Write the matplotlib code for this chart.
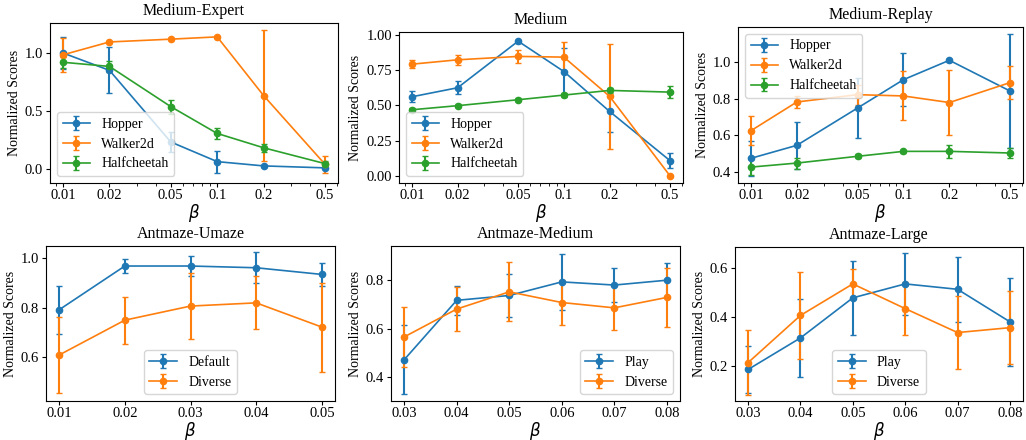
import numpy as np
import matplotlib
matplotlib.use("Agg")
import matplotlib.pyplot as plt

plt.rcParams.update({
    "font.family": "Liberation Serif",
    "mathtext.fontset": "dejavusans",
    "font.size": 10,
    "xtick.labelsize": 10.5,
    "ytick.labelsize": 10.5,
    "xtick.major.size": 3,
    "ytick.major.size": 3,
    "xtick.minor.size": 1.8,
    "xtick.major.pad": 1.5,
    "ytick.major.pad": 2,
})

# beta sweeps
beta_mujoco = [0.01, 0.02, 0.05, 0.1, 0.2, 0.5]
beta_mujoco_labels = ["0.01", "0.02", "0.05", "0.1", "0.2", "0.5"]
beta_umaze = [0.01, 0.02, 0.03, 0.04, 0.05]
beta_antmaze = [0.03, 0.04, 0.05, 0.06, 0.07, 0.08]

# Medium-Expert
me_hopper = [1.00, 0.85, 0.23, 0.06, 0.023, 0.006]
me_hopper_err = [0.14, 0.20, 0.09, 0.095, 0.01, 0.01]
me_walker = [0.985, 1.096, 1.12, 1.14, 0.632, 0.038]
me_walker_err = [0.145, 0.01, 0.01, 0.01, 0.565, 0.075]
me_cheetah = [0.92, 0.884, 0.536, 0.304, 0.18, 0.043]
me_cheetah_err = [0.05, 0.05, 0.06, 0.045, 0.035, 0.02]

# Medium
m_hopper = [0.561, 0.625, 0.955, 0.74, 0.457, 0.108]
m_hopper_err = [0.04, 0.045, 0.01, 0.165, 0.145, 0.055]
m_walker = [0.792, 0.823, 0.847, 0.842, 0.564, 0.0]
m_walker_err = [0.03, 0.035, 0.045, 0.105, 0.37, 0.005]
m_cheetah = [0.469, 0.498, 0.54, 0.573, 0.606, 0.594]
m_cheetah_err = [0.01, 0.01, 0.01, 0.015, 0.015, 0.04]

# Medium-Replay
mr_hopper = [0.475, 0.546, 0.75, 0.905, 1.011, 0.843]
mr_hopper_err = [0.095, 0.128, 0.166, 0.146, 0.008, 0.31]
mr_walker = [0.626, 0.783, 0.823, 0.816, 0.78, 0.889]
mr_walker_err = [0.08, 0.035, 0.055, 0.134, 0.18, 0.09]
mr_cheetah = [0.427, 0.449, 0.486, 0.513, 0.513, 0.504]
mr_cheetah_err = [0.045, 0.03, 0.01, 0.01, 0.035, 0.03]

# Antmaze-Umaze
um_default = [0.792, 0.969, 0.969, 0.962, 0.935]
um_default_err = [0.097, 0.028, 0.04, 0.063, 0.047]
um_diverse = [0.609, 0.75, 0.807, 0.82, 0.722]
um_diverse_err = [0.155, 0.095, 0.135, 0.107, 0.18]

# Antmaze-Medium
amd_play = [0.472, 0.717, 0.737, 0.793, 0.78, 0.80]
amd_play_err = [0.143, 0.06, 0.087, 0.115, 0.071, 0.072]
amd_diverse = [0.566, 0.681, 0.752, 0.708, 0.686, 0.729]
amd_diverse_err = [0.123, 0.09, 0.122, 0.092, 0.09, 0.122]

# Antmaze-Large
al_play = [0.185, 0.314, 0.478, 0.535, 0.513, 0.38]
al_play_err = [0.095, 0.16, 0.152, 0.127, 0.132, 0.18]
al_diverse = [0.213, 0.406, 0.535, 0.434, 0.336, 0.356]
al_diverse_err = [0.132, 0.177, 0.063, 0.109, 0.151, 0.15]

W, H = 1026, 440
fig = plt.figure(figsize=(W / 100, H / 100), dpi=100)


def make_axes(left, top, width, height):
    return fig.add_axes([left / W, 1 - (top + height) / H, width / W, height / H])


def draw(ax, x, series, title, ylim, legend_loc, log=False):
    for label, y, err in series:
        ax.errorbar(x, y, yerr=err, marker="o", markersize=4.5, capsize=2,
                    elinewidth=1.5, linewidth=1.2, label=label)
    ax.set_title(title, fontsize=11.5)
    ax.set_ylabel("Normalized Scores", fontsize=10, labelpad=3)
    ax.set_xlabel(r"$\beta$", fontsize=12, labelpad=-0.5)
    ax.set_ylim(*ylim)
    if log:
        ax.set_xscale("log")
        ax.set_xticks(x)
        ax.set_xticklabels(beta_mujoco_labels)
    else:
        ax.set_xticks(x)
        ax.set_xticklabels([f"{v:.2f}" for v in x])
    ax.legend(loc=legend_loc, fontsize=10)


ax = make_axes(50, 23, 288, 160)
draw(ax, beta_mujoco, [("Hopper", me_hopper, me_hopper_err),
                       ("Walker2d", me_walker, me_walker_err),
                       ("Halfcheetah", me_cheetah, me_cheetah_err)],
     "Medium-Expert", (-0.125, 1.26), "lower left", log=True)
ax.set_yticks([0.0, 0.5, 1.0])

ax = make_axes(399, 32, 284, 151)
draw(ax, beta_mujoco, [("Hopper", m_hopper, m_hopper_err),
                       ("Walker2d", m_walker, m_walker_err),
                       ("Halfcheetah", m_cheetah, m_cheetah_err)],
     "Medium", (-0.05, 1.02), "lower left", log=True)
ax.set_yticks([0.0, 0.25, 0.5, 0.75, 1.0])

ax = make_axes(738, 27, 285, 156)
draw(ax, beta_mujoco, [("Hopper", mr_hopper, mr_hopper_err),
                       ("Walker2d", mr_walker, mr_walker_err),
                       ("Halfcheetah", mr_cheetah, mr_cheetah_err)],
     "Medium-Replay", (0.34, 1.193), "upper left", log=True)
ax.set_yticks([0.4, 0.6, 0.8, 1.0])

ax = make_axes(46, 246, 289, 155)
draw(ax, beta_umaze, [("Default", um_default, um_default_err),
                      ("Diverse", um_diverse, um_diverse_err)],
     "Antmaze-Umaze", (0.423, 1.05), "lower center")
ax.set_yticks([0.6, 0.8, 1.0])

ax = make_axes(391, 246, 289, 155)
draw(ax, beta_antmaze, [("Play", amd_play, amd_play_err),
                        ("Diverse", amd_diverse, amd_diverse_err)],
     "Antmaze-Medium", (0.302, 0.941), "lower right")
ax.set_yticks([0.4, 0.6, 0.8])

ax = make_axes(735, 247, 288, 154)
draw(ax, beta_antmaze, [("Play", al_play, al_play_err),
                        ("Diverse", al_diverse, al_diverse_err)],
     "Antmaze-Large", (0.056, 0.686), "lower center")
ax.set_yticks([0.2, 0.4, 0.6])

fig.savefig("out.png", dpi=100)
